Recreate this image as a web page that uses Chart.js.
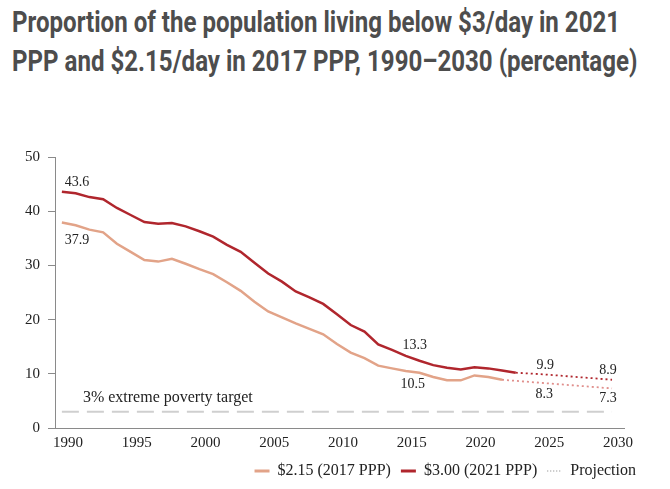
<!DOCTYPE html>
<html>
<head>
<meta charset="utf-8">
<script src="https://cdn.jsdelivr.net/npm/chart.js@4"></script>
<style>
  html, body { margin: 0; padding: 0; background: #fff; }
  #wrap { position: relative; width: 670px; height: 489px; overflow: hidden; }
  #title { position: absolute; left: 12px; top: 3px; font-family: Roboto, "Noto Sans", sans-serif; font-weight: 700;
           font-size: 29px; line-height: 39px; color: #4d4d4d; transform-origin: 0 0; transform: scaleX(0.83); white-space: nowrap; }
  canvas { position: absolute; left: 0; top: 0; }
</style>
</head>
<body>
<div id="wrap">
  <div id="title">Proportion of the population living below $3/day in 2021<br>PPP and $2.15/day in 2017 PPP, 1990–2030 (percentage)</div>
  <canvas id="c" width="670" height="489"></canvas>
</div>
<script>
// ---- data ----
const yearsRed = [1990,1991,1992,1993,1994,1995,1996,1997,1998,1999,2000,2001,2002,2003,2004,2005,2006,2007,2008,2009,2010,2011,2012,2013,2014,2015,2016,2017,2018,2019,2020,2021,2022,2023];
const red300 = [43.6,43.3,42.6,42.2,40.6,39.3,38.0,37.7,37.8,37.2,36.3,35.3,33.8,32.5,30.5,28.5,27.0,25.2,24.1,22.9,21.0,19.0,17.8,15.4,14.4,13.3,12.4,11.6,11.1,10.8,11.2,11.0,10.6,10.2];
const yearsSalmon = [1990,1991,1992,1993,1994,1995,1996,1997,1998,1999,2000,2001,2002,2003,2004,2005,2006,2007,2008,2009,2010,2011,2012,2013,2014,2015,2016,2017,2018,2019,2020,2021,2022];
const salmon215 = [37.9,37.4,36.6,36.1,34.0,32.5,31.0,30.7,31.2,30.3,29.3,28.4,26.9,25.3,23.3,21.5,20.4,19.3,18.3,17.3,15.5,13.9,12.9,11.5,11.0,10.5,10.2,9.4,8.8,8.8,9.7,9.4,8.9];
const projYearsRed = [2023, 2025, 2030];
const projRed = [10.2, 9.9, 8.9];
const projYearsSalmon = [2022, 2025, 2030];
const projSalmon = [8.9, 8.3, 7.3];
const targetYears = [1990, 2030];
const targetValues = [3, 3];
const xTicks = [1990,1995,2000,2005,2010,2015,2020,2025,2030];
const yTicks = [0,10,20,30,40,50];
const seriesNames = ['$2.15 (2017 PPP)', '$3.00 (2021 PPP)', 'Projection'];
const targetLabel = '3% extreme poverty target';
// annotations: [series, year, text, dx, dy]
const annotations = [
  ['red', 1990, '43.6', 15, -9],
  ['salmon', 1990, '37.9', 15, 18],
  ['red', 2015, '13.3', 9, -11],
  ['salmon', 2015, '10.5', 7, 13],
  ['projRed', 2025, '9.9', 2, -9],
  ['projSalmon', 2025, '8.3', 1, 11],
  ['projRed', 2030, '8.9', -4, -9],
  ['projSalmon', 2030, '7.3', -4, 10]
];

const RED = '#b0262d';
const SALMON = '#e2a388';
const PROJ_SALMON = '#e08f8c';
const SERIF = '"Liberation Serif", "Times New Roman", serif';

const pts = (xs, ys) => xs.map((x, i) => ({x: x, y: ys[i]}));
const lookup = {
  red: pts(yearsRed, red300),
  salmon: pts(yearsSalmon, salmon215),
  projRed: pts(projYearsRed, projRed),
  projSalmon: pts(projYearsSalmon, projSalmon)
};

const annotationPlugin = {
  id: 'annots',
  afterLayout(chart) {
    if (chart.legend) { chart.legend.left += 22; chart.legend.right += 22; }
  },
  afterDatasetsDraw(chart) {
    const ctx = chart.ctx;
    const xs = chart.scales.x, ys = chart.scales.y;
    ctx.save();
    ctx.fillStyle = '#222';
    ctx.textAlign = 'center';
    ctx.textBaseline = 'middle';
    ctx.font = '14px ' + SERIF;
    annotations.forEach(([s, yr, txt, dx, dy]) => {
      const p = lookup[s].find(d => d.x === yr);
      ctx.fillText(txt, xs.getPixelForValue(p.x) + dx, ys.getPixelForValue(p.y) + dy);
    });
    ctx.font = '16px ' + SERIF;
    ctx.textAlign = 'left';
    ctx.fillText(targetLabel, xs.getPixelForValue(targetYears[0]) + 21, ys.getPixelForValue(targetValues[0]) - 14);
    ctx.restore();
  }
};

new Chart(document.getElementById('c'), {
  type: 'line',
  data: {
    datasets: [
      { label: 'target', data: pts(targetYears, targetValues), borderColor: '#cfcfcf', borderWidth: 2, borderDash: [17, 8], pointRadius: 0, order: 5 },
      { label: seriesNames[0], data: lookup.salmon, borderColor: SALMON, borderWidth: 2.5, pointRadius: 0, tension: 0 },
      { label: seriesNames[1], data: lookup.red, borderColor: RED, borderWidth: 2.5, pointRadius: 0, tension: 0 },
      { label: 'projSalmon', data: lookup.projSalmon, borderColor: PROJ_SALMON, borderWidth: 1.8, borderDash: [2, 3], pointRadius: 0 },
      { label: 'projRed', data: lookup.projRed, borderColor: RED, borderWidth: 1.8, borderDash: [2, 3], pointRadius: 0 }
    ]
  },
  options: {
    responsive: false,
    animation: false,
    layout: { padding: { top: 157, left: 0, right: 46, bottom: 0 } },
    scales: {
      x: {
        type: 'linear', min: 1989.5, max: 2030.87,
        afterBuildTicks: (s) => { s.ticks = xTicks.map(v => ({value: v})); },
        afterFit: (s) => { s.height = 25; },
        grid: { display: false, drawTicks: false },
        border: { display: true, color: '#8a8a8a', width: 1 },
        ticks: { callback: v => String(v), font: { family: SERIF, size: 15 }, color: '#222', padding: 6, maxRotation: 0, labelOffset: 6, autoSkip: false }
      },
      y: {
        min: 0, max: 50,
        afterBuildTicks: (s) => { s.ticks = yTicks.map(v => ({value: v})); },
        afterFit: (s) => { s.width = 55; },
        grid: { display: true, drawOnChartArea: false, drawTicks: true, tickLength: 7, color: '#8a8a8a' },
        border: { display: true, color: '#8a8a8a', width: 1 },
        ticks: { font: { family: SERIF, size: 15 }, color: '#222', padding: 8 }
      }
    },
    plugins: {
      title: { display: false },
      tooltip: { enabled: false },
      legend: {
        position: 'bottom', align: 'end',
        labels: {
          usePointStyle: true, pointStyleWidth: 15, boxWidth: 15, padding: 10,
          font: { family: SERIF, size: 16 }, color: '#222',
          generateLabels: () => [
            { text: seriesNames[0], pointStyle: 'line', strokeStyle: SALMON, fillStyle: SALMON, lineWidth: 3, lineDash: [], fontColor: '#222' },
            { text: seriesNames[1], pointStyle: 'line', strokeStyle: RED, fillStyle: RED, lineWidth: 3, lineDash: [], fontColor: '#222' },
            { text: seriesNames[2], pointStyle: 'line', strokeStyle: '#aaaaaa', fillStyle: '#aaaaaa', lineWidth: 1.5, lineDash: [1, 2], fontColor: '#222' }
          ]
        }
      }
    }
  },
  plugins: [annotationPlugin]
});
</script>
</body>
</html>
